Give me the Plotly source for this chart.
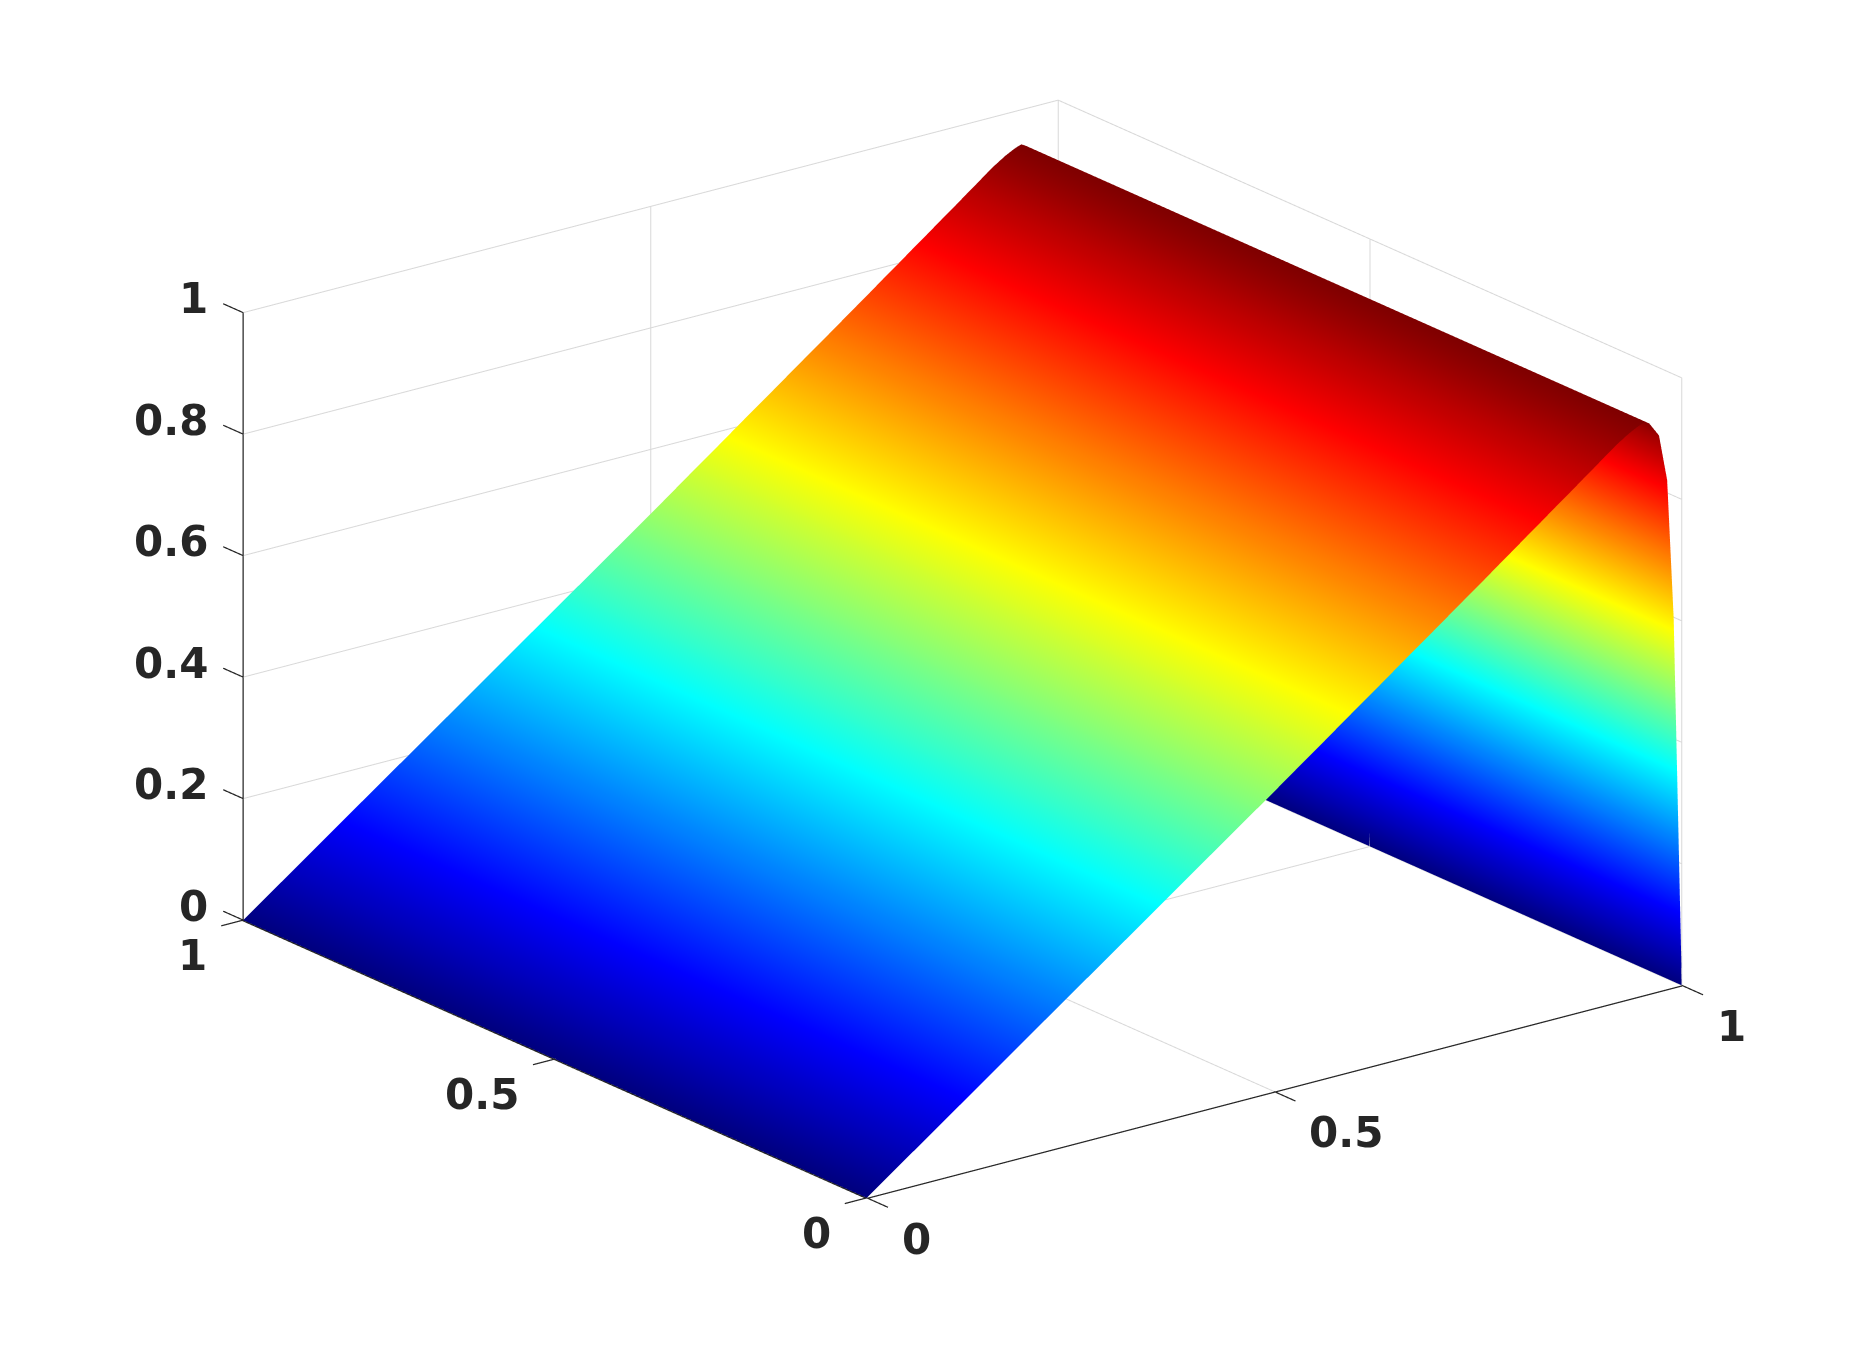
import plotly.graph_objects as go

x_values = [0, 0.25, 0.5, 0.75, 0.88, 0.92, 0.935, 0.945, 0.95, 0.955, 0.96, 0.972, 0.982, 0.99, 1]
y_values = [0, 0.25, 0.5, 0.75, 1]
z_profile = [0, 0.247, 0.494, 0.745, 0.877, 0.918, 0.931, 0.938, 0.941, 0.943, 0.939, 0.915, 0.838, 0.608, 0]
z_rows = [z_profile for _ in y_values]
xy_ticks = [0, 0.5, 1]
xy_labels = ["0", "0.5", "1"]
z_ticks = [0, 0.2, 0.4, 0.6, 0.8, 1]
z_labels = ["0", "0.2", "0.4", "0.6", "0.8", "1"]

jet = [[0, "rgb(0,0,128)"], [0.125, "rgb(0,0,255)"], [0.375, "rgb(0,255,255)"],
       [0.625, "rgb(255,255,0)"], [0.875, "rgb(255,0,0)"], [1, "rgb(128,0,0)"]]

font = dict(family="DejaVu Sans", size=42, color="#262626", weight="bold")
PAD = 0.04
EDGE = 0.0006


def axis(ticks, lo, hi):
    return dict(range=[lo, hi], autorange=False, tickmode="array", tickvals=ticks,
                title=dict(text=""), showgrid=False, showline=False, zeroline=False,
                ticks="", showticklabels=False, showbackground=False, showspikes=False)


notes = []
for v, t in zip(z_ticks, z_labels):
    notes.append(dict(x=0, y=1, z=v, text=t, xanchor="right", yanchor="middle", xshift=-33, yshift=14))
for v, t in zip(xy_ticks, xy_labels):
    notes.append(dict(x=0, y=v, z=0, text=t, xanchor="right", yanchor="middle", xshift=-34, yshift=-35))
    notes.append(dict(x=v, y=0, z=0, text=t, xanchor="left", yanchor="middle", xshift=33, yshift=-41))
for n in notes:
    n.update(showarrow=False, font=font)


def segments(pairs):
    xs, ys, zs = [], [], []
    for p, q in pairs:
        xs.extend([p[0], q[0], None])
        ys.extend([p[1], q[1], None])
        zs.extend([p[2], q[2], None])
    return xs, ys, zs


grid = []
for v in z_ticks:
    grid.append(((0, 1, v), (1, 1, v)))
    grid.append(((1, 0, v), (1, 1, v)))
for v in xy_ticks:
    grid.append(((1, v, 0), (1, v, 1)))
    if v > 0:
        grid.append(((v, 1, 0), (v, 1, 1)))
        grid.append(((v, 0, 0), (v, 1, 0)))
        grid.append(((0, v, 0), (1, v, 0)))

axes_and_ticks = [((0, -EDGE, -EDGE), (1, -EDGE, -EDGE)), ((-EDGE, 0, -EDGE), (-EDGE, 1, -EDGE)), ((0, 1, 0), (0, 1, 1))]
for v in xy_ticks:
    axes_and_ticks.append(((v, 0, 0), (v, -0.034, 0)))
    axes_and_ticks.append(((0, v, 0), (-0.027, v, 0)))
for v in z_ticks:
    axes_and_ticks.append(((0, 1, v), (0, 1.032, v)))

fig = go.Figure()
gx, gy, gz = segments(grid)
fig.add_trace(go.Scatter3d(x=gx, y=gy, z=gz, mode="lines", line=dict(color="#d8d8d8", width=2),
                           hoverinfo="skip", showlegend=False))
fig.add_trace(go.Surface(
    x=x_values, y=y_values, z=z_rows, colorscale=jet, cmin=0, cmax=0.944, showscale=False,
    lighting=dict(ambient=1, diffuse=0, specular=0, roughness=1, fresnel=0),
    hoverinfo="skip"))
ax, ay, az = segments(axes_and_ticks)
fig.add_trace(go.Scatter3d(x=ax, y=ay, z=az, mode="lines", line=dict(color="#262626", width=2.5),
                           hoverinfo="skip", showlegend=False))
fig.update_layout(
    width=1859, height=1347, margin=dict(l=0, r=0, t=0, b=0),
    paper_bgcolor="white",
    scene=dict(
        domain=dict(x=[0.027, 1], y=[0.048, 1]),
        xaxis=axis(xy_ticks, -PAD, 1 + PAD), yaxis=axis(xy_ticks, -PAD, 1 + PAD),
        zaxis=axis(z_ticks, -0.01, 1.01),
        aspectmode="manual",
        aspectratio=dict(x=1.601 * (1 + 2 * PAD), y=1.601 * (1 + 2 * PAD), z=1.008 * 1.02),
        annotations=notes,
        camera=dict(projection=dict(type="orthographic"),
                    eye=dict(x=-1.14, y=-1.49, z=0.68), up=dict(x=0, y=0, z=1),
                    center=dict(x=0, y=0, z=0)),
    ))
fig.write_html("out.html")
